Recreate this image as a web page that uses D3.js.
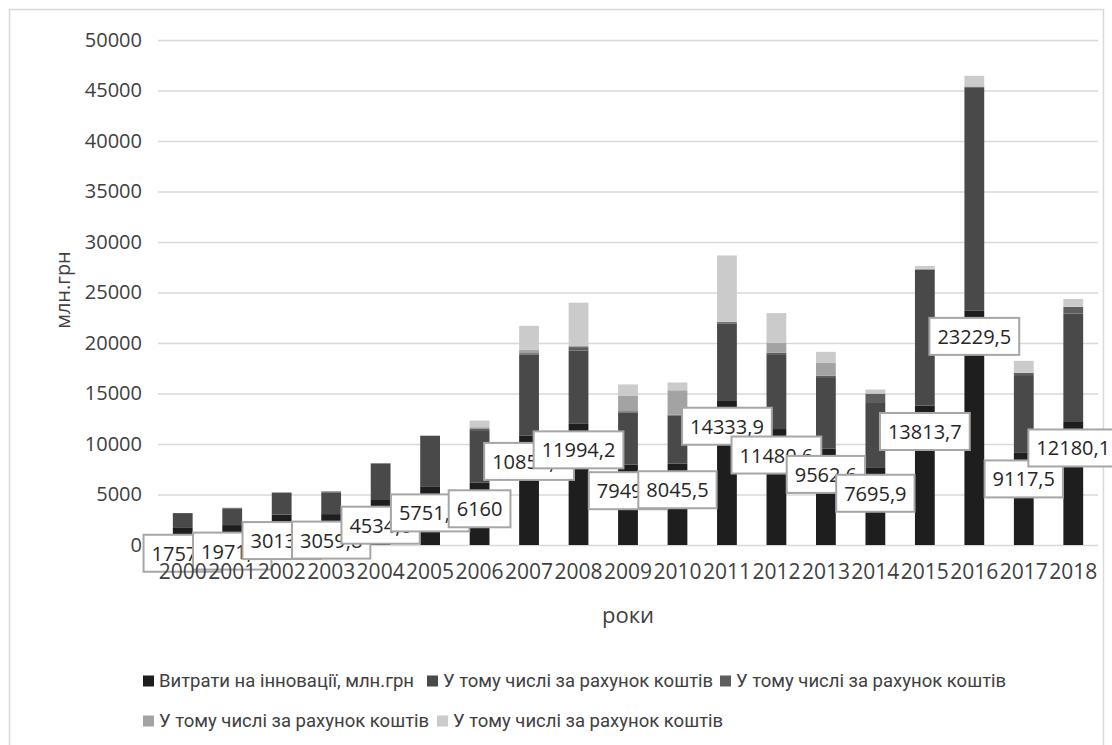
<!DOCTYPE html>
<html>
<head>
<meta charset="utf-8">
<script src="https://cdn.jsdelivr.net/npm/d3@7"></script>
<style>
  body { margin: 0; background: #fff; }
  svg { display: block; }
</style>
</head>
<body>
<div id="chart"></div>
<script>
// Years and series values (млн.грн)
const years = ["2000", "2001", "2002", "2003", "2004", "2005", "2006", "2007", "2008", "2009",
    "2010", "2011", "2012", "2013", "2014", "2015", "2016", "2017", "2018"];
const innovations = [1757.1, 1971.4, 3013.8, 3059.8, 4534.6, 5751.6, 6160, 10850.9, 11994.2, 7949.9,
    8045.5, 14333.9, 11480.6, 9562.6, 7695.9, 13813.7, 23229.5, 9117.5, 12180.1];
const ownFunds = [1399.3, 1654.0, 2141.8, 2148.4, 3501.5, 5045.4, 5211.7, 7999.6, 7264.0, 5169.4,
    4775.2, 7585.6, 7335.9, 6973.4, 6450.0, 13427.0, 22036.5, 7704.1, 10742.0];
const stateBudget = [7.7, 55.1, 45.5, 93.0, 63.4, 28.1, 114.4, 144.8, 336.4, 127.0,
    87.0, 149.2, 224.3, 235.2, 835.0, 55.0, 121.1, 227.3, 652.0];
const foreignInv = [0, 0, 0, 0, 0, 0, 176.2, 321.8, 115.9, 1512.7,
    2411.4, 56.9, 994.8, 1253.8, 21.3, 58.7, 8.2, 8.2, 26.0];
const otherSources = [0, 0, 0, 0, 0, 0, 657.7, 2384.7, 4277.9, 1140.8,
    771.9, 6542.2, 2925.6, 1100.2, 389.6, 273.0, 1063.7, 1177.9, 760.1];
const yTicks = [0, 5000, 10000, 15000, 20000, 25000, 30000, 35000, 40000, 45000, 50000];

const seriesNames = ["Витрати на інновації, млн.грн", "У тому числі за рахунок коштів",
    "У тому числі за рахунок коштів", "У тому числі за рахунок коштів", "У тому числі за рахунок коштів"];
const keys = ["s1", "s2", "s3", "s4", "s5"];
const colors = ["#1e1e1e", "#494949", "#5e5e5e", "#a3a3a3", "#cbcbcb"];

const table = years.map((y, i) => ({
    year: y, s1: innovations[i], s2: ownFunds[i], s3: stateBudget[i], s4: foreignInv[i], s5: otherSources[i]
}));

const W = 1112, H = 745;
const plot = {left: 158, right: 1098, top: 40, bottom: 545};

const svg = d3.select("#chart").append("svg")
    .attr("width", W)
    .attr("height", H);

// outer frame
svg.append("rect")
    .attr("x", 9.5).attr("y", 9.5)
    .attr("width", 1094).attr("height", 760)
    .attr("fill", "none")
    .attr("stroke", "#d9d9d9")
    .attr("stroke-width", 1.5);

const x = d3.scaleBand()
    .domain(years)
    .range([plot.left, plot.right])
    .paddingInner(0.6)
    .paddingOuter(0.3);

const y = d3.scaleLinear()
    .domain([0, 50000])
    .range([plot.bottom, plot.top]);

// gridlines + y labels
const yAxis = svg.append("g")
    .attr("transform", "translate(" + plot.left + ",0)")
    .call(d3.axisLeft(y).tickValues(yTicks).tickSize(-(plot.right - plot.left)).tickPadding(16).tickFormat(d3.format("d")));
yAxis.select(".domain").remove();
yAxis.selectAll(".tick line").attr("stroke", "#d9d9d9").attr("stroke-width", 1.5);
yAxis.selectAll(".tick text")
    .attr("fill", "#404040")
    .style("font-family", "Open Sans")
    .style("font-size", "20px");

// stacked bars
const stacked = d3.stack().keys(keys)(table);
svg.append("g")
    .selectAll("g")
    .data(stacked)
    .enter()
    .append("g")
    .attr("fill", (d, i) => colors[i])
    .selectAll("rect")
    .data(d => d)
    .enter()
    .append("rect")
    .attr("x", d => x(d.data.year))
    .attr("y", d => y(d[1]))
    .attr("width", x.bandwidth())
    .attr("height", d => y(d[0]) - y(d[1]));

// data labels for first series
const fmt = v => Number.isInteger(v) ? String(v) : v.toFixed(1).replace(".", ",");
const labels = svg.append("g");
table.forEach(d => {
    const g = labels.append("g");
    const cx = x(d.year) + x.bandwidth() / 2;
    const top = y(d.s1) + 7.5;
    const t = g.append("text")
        .attr("x", cx)
        .attr("y", top + 18.5)
        .attr("text-anchor", "middle")
        .attr("dominant-baseline", "central")
        .attr("fill", "#262626")
        .style("font-family", "Open Sans")
        .style("font-size", "20px")
        .text(fmt(d.s1));
    const w = t.node().getComputedTextLength() + 16;
    g.insert("rect", "text")
        .attr("x", cx - w / 2)
        .attr("y", top)
        .attr("width", w)
        .attr("height", 37)
        .attr("fill", "#fff")
        .attr("stroke", "#a6a6a6")
        .attr("stroke-width", 2);
});

// x labels (drawn over the label boxes, like the original)
const xAxis = svg.append("g")
    .attr("transform", "translate(0," + plot.bottom + ")")
    .call(d3.axisBottom(x).tickSize(0).tickPadding(19));
xAxis.select(".domain").remove();
xAxis.selectAll(".tick text")
    .attr("fill", "#404040")
    .style("font-family", "Open Sans")
    .style("font-size", "21px");

// axis titles
svg.append("text")
    .attr("x", (plot.left + plot.right) / 2)
    .attr("y", 614)
    .attr("text-anchor", "middle")
    .attr("dominant-baseline", "central")
    .attr("fill", "#404040")
    .style("font-family", "Open Sans")
    .style("font-size", "22px")
    .text("роки");

svg.append("text")
    .attr("transform", "translate(62,290) rotate(-90)")
    .attr("text-anchor", "middle")
    .attr("dominant-baseline", "central")
    .attr("fill", "#404040")
    .style("font-family", "Open Sans")
    .style("font-size", "20px")
    .text("млн.грн");

// legend
const legendPos = [[143, 681], [427, 681], [720, 681], [143, 721], [437, 721]];
const legend = svg.append("g");
seriesNames.forEach((name, i) => {
    const [lx, ly] = legendPos[i];
    legend.append("rect")
        .attr("x", lx).attr("y", ly - 5.5)
        .attr("width", 11).attr("height", 11)
        .attr("fill", colors[i]);
    legend.append("text")
        .attr("x", lx + 16)
        .attr("y", ly)
        .attr("dominant-baseline", "central")
        .attr("fill", "#404040")
        .style("font-family", "Roboto")
        .style("font-size", "18.5px")
        .text(name);
});
</script>
</body>
</html>
